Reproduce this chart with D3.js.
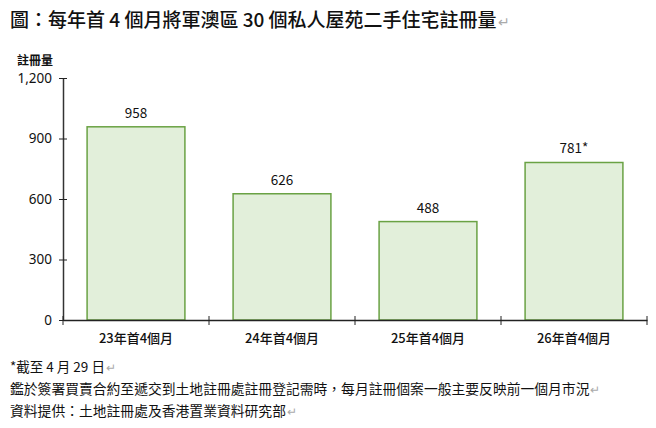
<!DOCTYPE html>
<html><head><meta charset="utf-8">
<script src="https://cdn.jsdelivr.net/npm/d3@7"></script>
<style>
body{margin:0;background:#fff;}
text{font-family:"Noto Sans CJK TC","Noto Sans",sans-serif;}
</style></head>
<body><svg id="c" width="656" height="428"></svg>
<script>
const categories = ["23年首4個月","24年首4個月","25年首4個月","26年首4個月"];
const values = [958, 626, 488, 781];
const valueLabels = ["958","626","488","781*"];
const yTicks = [0,300,600,900,1200];
const title = "圖：每年首 4 個月將軍澳區 30 個私人屋苑二手住宅註冊量";
const yTitle = "註冊量";
const notes = ["*截至 4 月 29 日","鑑於簽署買賣合約至遞交到土地註冊處註冊登記需時，每月註冊個案一般主要反映前一個月市況","資料提供：土地註冊處及香港置業資料研究部"];

const svg = d3.select("#c");
const L=63, R=647, T=78, B=320;
const x = d3.scaleBand().domain(categories).range([L,R]).padding(0);
const y = d3.scaleLinear().domain([0,1200]).range([B,T]);
const bw = x.bandwidth()*0.67;

// title
const t = svg.append("text").attr("x",10).attr("y",27).attr("font-size",19).attr("font-weight",500).attr("fill","#111").text(title);
svg.append("text").attr("x",10+t.node().getComputedTextLength()+1).attr("y",27).attr("font-size",14).attr("fill","#aaa").text("↵");

// bars
svg.selectAll("rect.bar").data(values).join("rect").attr("class","bar")
 .attr("x",(d,i)=>x(categories[i])+x.bandwidth()/2-bw/2)
 .attr("y",d=>y(d)).attr("width",bw).attr("height",d=>B-y(d))
 .attr("fill","#e2efda").attr("stroke","#6aa244").attr("stroke-width",1.5);

svg.selectAll("text.vl").data(values).join("text").attr("class","vl")
 .attr("x",(d,i)=>x(categories[i])+x.bandwidth()/2).attr("y",d=>y(d)-9)
 .attr("text-anchor","middle").attr("font-size",13.5).attr("fill","#111")
 .text((d,i)=>valueLabels[i]);

// y axis
const ya = svg.append("g").attr("transform",`translate(${L},0)`)
 .call(d3.axisLeft(y).tickValues(yTicks).tickFormat(d3.format(",")).tickSize(4).tickSizeOuter(0));
ya.selectAll(".tick line").attr("x2",4).attr("x1",-4).attr("stroke","#222");
ya.select(".domain").attr("stroke","#333").attr("stroke-width",1.5);
ya.selectAll(".tick text").attr("x",-11).attr("font-size",13.5).attr("fill","#111").style("font-family",'"Noto Sans",sans-serif');

svg.append("text").attr("x",35).attr("y",65).attr("text-anchor","middle").attr("font-size",12).attr("font-weight",700).attr("fill","#111").text(yTitle);

// x axis
const xa = svg.append("g").attr("transform",`translate(0,${B})`)
 .call(d3.axisBottom(x).tickSize(0).tickSizeOuter(0));
xa.select(".domain").attr("stroke","#222").attr("stroke-width",1.5);
xa.selectAll(".tick text").attr("y",23).attr("dy",0).attr("font-size",13).attr("font-weight",500).attr("fill","#111");
const bounds = categories.map(c=>x(c)).concat([R]);
xa.selectAll("line.sep").data(bounds).join("line").attr("class","sep")
 .attr("x1",d=>d).attr("x2",d=>d).attr("y1",-4).attr("y2",5).attr("stroke","#222");

// notes
const ny=[372,394,416];
notes.forEach((n,i)=>{
 const tt=svg.append("text").attr("x",10).attr("y",ny[i]).attr("font-size",i==0?13.5:13.8).attr("fill","#111").text(n);
 svg.append("text").attr("x",10+tt.node().getComputedTextLength()+1).attr("y",ny[i]).attr("font-size",12).attr("fill","#aaa").text("↵");
});
</script></body></html>
